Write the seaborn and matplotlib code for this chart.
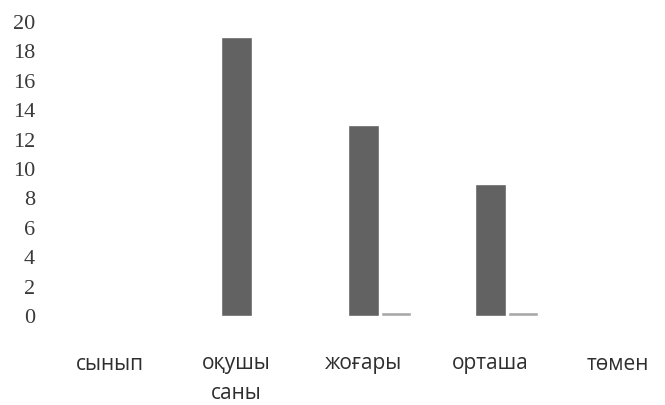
import matplotlib
matplotlib.use("Agg")
import matplotlib.pyplot as plt
import seaborn as sns
import pandas as pd

categories = ["сынып", "оқушы\nсаны", "жоғары", "орташа", "төмен"]
series_names = ["Қатар 1", "Қатар 2", "Қатар 3"]
series1 = [0, 0, 0, 0, 0]
series2 = [0, 19, 13, 9, 0]
series3 = [0, 0, 0.25, 0.25, 0]
y_ticks = [0, 2, 4, 6, 8, 10, 12, 14, 16, 18, 20]

rows = []
for name, vals in zip(series_names, [series1, series2, series3]):
    for c, v in zip(categories, vals):
        rows.append({"cat": c, "series": name, "value": v})
df = pd.DataFrame(rows)

sns.set_theme(style="white")
plt.rcParams["font.family"] = ["Open Sans", "DejaVu Sans"]

fig = plt.figure(figsize=(6.65, 4.05), dpi=100)
ax = fig.add_axes([46 / 665, 89 / 405, 635 / 665, 294 / 405])

sns.barplot(data=df, x="cat", y="value", hue="series", order=categories,
            hue_order=series_names,
            palette=["#ffffff", "#626262", "#a8a8a8"],
            width=0.76, gap=0.06, ax=ax, legend=False, saturation=1)

ax.set_ylim(0, 20)
ax.set_xlim(-0.5, 4.5)
ax.set_yticks(y_ticks)
ax.set_yticklabels([str(t) for t in y_ticks], family="Liberation Serif",
                   fontsize=16, color="#3a3a3a")
ax.tick_params(axis="y", length=0, pad=8)
ax.tick_params(axis="x", length=0, pad=27)
for lbl in ax.get_xticklabels():
    lbl.set_fontsize(15)
    lbl.set_color("#2e2e2e")
    lbl.set_linespacing(1.55)
    lbl.set_verticalalignment("top")
ax.set_xlabel("")
ax.set_ylabel("")
for s in ax.spines.values():
    s.set_visible(False)
ax.grid(False)

fig.savefig("out.png", dpi=100)
